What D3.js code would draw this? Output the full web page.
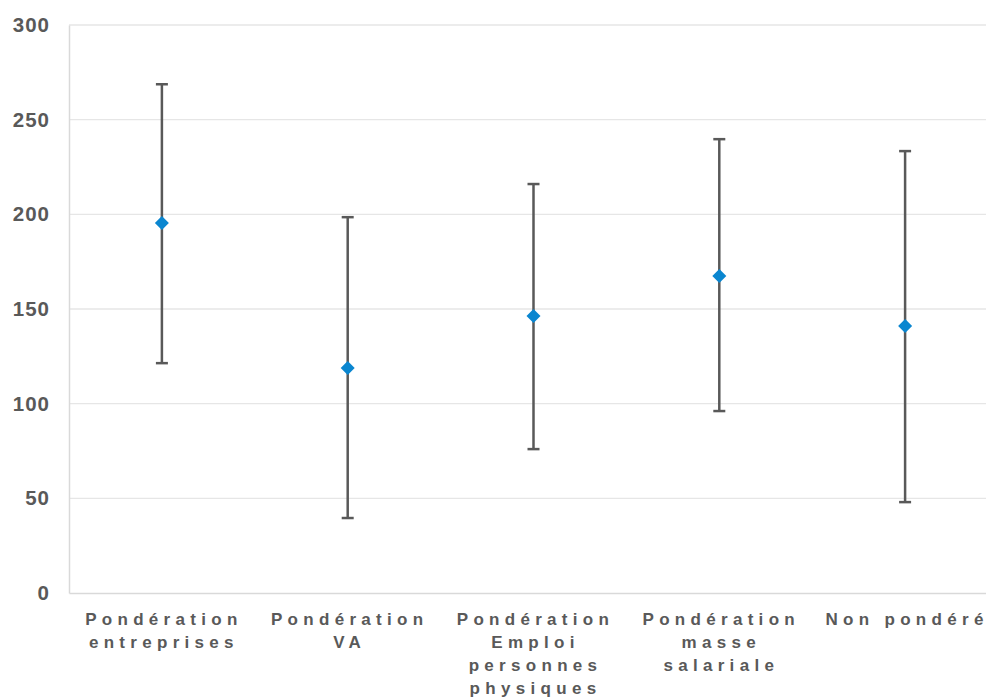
<!DOCTYPE html>
<html>
<head>
<meta charset="utf-8">
<script src="https://cdn.jsdelivr.net/npm/d3@7"></script>
<style>
  html, body { margin: 0; padding: 0; background: #fff; }
  svg { display: block; }
</style>
</head>
<body>
<svg id="chart" width="986" height="698"></svg>
<script>
const categories = [
  ["Pondération", "entreprises"],
  ["Pondération", "VA"],
  ["Pondération", "Emploi", "personnes", "physiques"],
  ["Pondération", "masse", "salariale"],
  ["Non pondéré"]
];
const means = [195.4, 118.8, 146.3, 167.4, 141.0];
const upper = [268.7, 198.5, 216.0, 239.7, 233.4];
const lower = [121.4, 39.6, 76.0, 96.1, 48.0];
const yTicks = [0, 50, 100, 150, 200, 250, 300];

(function () {
const svg = d3.select("#chart");
const mLeft = 69, mRight = 998, mTop = 25, mBottom = 593;

const x = d3.scaleBand().domain(d3.range(categories.length)).range([mLeft, mRight]);
const y = d3.scaleLinear().domain([0, 300]).range([mBottom, mTop]);

// gridlines
svg.append("g").selectAll("line").data(yTicks.filter(d => d > 0)).join("line")
  .attr("x1", mLeft).attr("x2", mRight)
  .attr("y1", d => y(d)).attr("y2", d => y(d))
  .attr("stroke", "#e6e6e6").attr("stroke-width", 1.3);

// y axis
const yAxis = d3.axisLeft(y).tickValues(yTicks).tickSize(0).tickPadding(19);
const gy = svg.append("g").attr("transform", `translate(${mLeft},0)`).call(yAxis);
gy.select(".domain").attr("stroke", "#d9d9d9").attr("stroke-width", 1.5);
gy.selectAll("text")
  .attr("fill", "#595959")
  .attr("font-family", "Liberation Sans, Arial, sans-serif")
  .attr("font-weight", "bold")
  .attr("font-size", "20.5px")
  .attr("letter-spacing", "1px");

// x axis
const xAxis = d3.axisBottom(x).tickSize(0).tickFormat("");
const gx = svg.append("g").attr("transform", `translate(0,${mBottom})`).call(xAxis);
gx.select(".domain").attr("stroke", "#d9d9d9").attr("stroke-width", 1.5);

const labels = svg.append("g").selectAll("text").data(categories).join("text")
  .attr("text-anchor", "middle")
  .attr("fill", "#595959")
  .attr("font-family", "Liberation Sans, Arial, sans-serif")
  .attr("font-weight", "bold")
  .attr("font-size", "17px")
  .attr("letter-spacing", "5.3px");
labels.each(function(lines, i) {
  const t = d3.select(this);
  lines.forEach((ln, j) => {
    t.append("tspan")
      .attr("x", x(i) + x.bandwidth() / 2 + 2)
      .attr("y", 625 + j * 23)
      .text(ln);
  });
});

// error bars
const cx = i => x(i) + x.bandwidth() / 2;
const eb = svg.append("g").attr("stroke", "#595959").attr("stroke-width", 2.5);
eb.selectAll("line.v").data(means).join("line").attr("class", "v")
  .attr("x1", (d, i) => cx(i)).attr("x2", (d, i) => cx(i))
  .attr("y1", (d, i) => y(upper[i])).attr("y2", (d, i) => y(lower[i]));
eb.selectAll("line.u").data(upper).join("line").attr("class", "u")
  .attr("x1", (d, i) => cx(i) - 6).attr("x2", (d, i) => cx(i) + 6)
  .attr("y1", d => y(d)).attr("y2", d => y(d));
eb.selectAll("line.l").data(lower).join("line").attr("class", "l")
  .attr("x1", (d, i) => cx(i) - 6).attr("x2", (d, i) => cx(i) + 6)
  .attr("y1", d => y(d)).attr("y2", d => y(d));

// markers
svg.append("g").selectAll("path").data(means).join("path")
  .attr("transform", (d, i) => `translate(${cx(i)},${y(d)})`)
  .attr("d", "M0,-7L7,0L0,7L-7,0Z")
  .attr("fill", "#0a86d0");
})();
</script>
</body>
</html>
